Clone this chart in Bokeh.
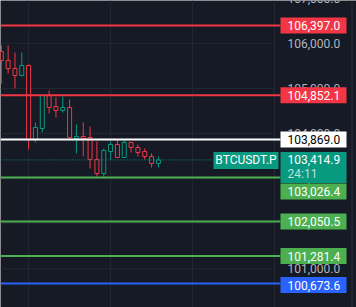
from bokeh.plotting import figure
from bokeh.models import Range1d
from bokeh.core.properties import value
from bokeh.embed import file_html
from bokeh.resources import INLINE

# ---------------- data ----------------
opens  = [105820, 105621, 105443, 105288, 105510, 103868, 104112, 104844,
          104600, 104512, 104578, 103891, 103935, 103913, 103425, 103114,
          103602, 103758, 103469, 103802, 103691, 103602, 103491, 103336]
highs  = [105953, 105953, 105798, 105798, 105532, 104246, 104844, 104955,
          104800, 104822, 104756, 104201, 104246, 104157, 103824, 103669,
          103824, 103868, 103868, 103802, 103758, 103669, 103558, 103491]
lows   = [105111, 105332, 105000, 105266, 103647, 103802, 104024, 104445,
          104356, 104467, 103913, 103558, 103491, 103225, 103048, 103026,
          103425, 103469, 103469, 103580, 103491, 103425, 103247, 103247]
closes = [105621, 105443, 105288, 105510, 103868, 104135, 104844, 104578,
          104512, 104578, 103913, 103935, 103891, 103425, 103114, 103624,
          103758, 103469, 103802, 103691, 103580, 103491, 103336, 103415]

level_prices = [106397.0, 104852.1, 103869.0, 103026.4, 102050.5, 101281.4, 100673.6]
level_labels = ["106,397.0", "104,852.1", "103,869.0", "103,026.4",
                "102,050.5", "101,281.4", "100,673.6"]
level_kinds  = ["red", "red", "white", "green", "green", "green", "blue"]

tick_prices = [101000, 102000, 103000, 104000, 105000, 106000, 107000]
tick_labels = ["101,000.0", "102,000.0", "103,000.0",
               "104,000.0", "105,000.0", "106,000.0", "107,000.0"]

time_grid_bars = [4, 16, 28, 40]

last_price = 103414.9
last_label = "103,414.9"
countdown = "24:11"
symbol = "BTCUSDT.P"

# ---------------- styling / layout ----------------
W, H = 356, 307
BG = "#161a25"
GRID = "#242833"
RED = "#f23645"
TEAL = "#089981"
GREEN = "#4caf50"
BLUE = "#2962ff"
AXIS_TXT = "#b2b5be"
FONT = value("Roboto")

PX_BAR = 6.83      # pixels per bar
X0 = 0.8           # pixel of bar 0
S = (106397.0 - 100673.6) / (283 - 25)   # price units per pixel
Y_TOP = 106397.0 + 25 * S
Y_BOT = Y_TOP - H * S

def px2x(px):
    return (px - X0) / PX_BAR

x_start, x_end = px2x(0), px2x(W)

p = figure(width=W, height=H, x_range=Range1d(x_start, x_end),
           y_range=Range1d(Y_BOT, Y_TOP), toolbar_location=None,
           output_backend="svg", min_border=0, x_axis_location=None,
           y_axis_location=None, background_fill_color=BG,
           border_fill_color=BG, outline_line_color=None)
p.grid.visible = False

# grid
p.segment(x0=[x_start] * len(tick_prices), x1=[px2x(274)] * len(tick_prices),
          y0=tick_prices, y1=tick_prices, line_color=GRID, line_width=1)
p.segment(x0=time_grid_bars, x1=time_grid_bars, y0=[Y_BOT] * 4, y1=[Y_TOP] * 4,
          line_color=GRID, line_width=1)
p.segment(x0=[px2x(351.5)], x1=[px2x(351.5)], y0=[Y_BOT], y1=[Y_TOP],
          line_color="#2a2e39", line_width=1)

# price scale labels
p.text(x=[px2x(287)] * len(tick_prices), y=tick_prices, text=tick_labels,
       text_font=FONT, text_font_size="12px", text_color=AXIS_TXT,
       text_align="left", text_baseline="middle")

# candles
idx = list(range(len(opens)))
cols = [TEAL if c >= o else RED for o, c in zip(opens, closes)]
top = [max(o, c) for o, c in zip(opens, closes)]
bot = [min(o, c) for o, c in zip(opens, closes)]
p.segment(x0=idx, x1=idx, y0=lows, y1=highs, line_color=cols, line_width=1)
p.vbar(x=idx, width=4 / PX_BAR, top=top, bottom=bot, fill_color=BG,
       line_color=cols, line_width=1)

# level lines
kind_col = {"red": RED, "white": "#ffffff", "green": GREEN, "blue": BLUE}
lcols = [kind_col[k] for k in level_kinds]
n = len(level_prices)
p.segment(x0=[x_start] * n, x1=[px2x(280)] * n, y0=level_prices, y1=level_prices,
          line_color=lcols, line_width=2)

# current price dotted line
p.segment(x0=[x_start], x1=[px2x(213)], y0=[last_price], y1=[last_price],
          line_color=TEAL, line_width=1, line_dash="1 2")

# level label boxes (103,026.4 label pushed down below the last-price box)
shift = [0, 0, 0, -14, 0, 0, -1.5]
centers = [lp + sh * S for lp, sh in zip(level_prices, shift)]
p.quad(left=[px2x(280)] * n, right=[px2x(346)] * n,
       top=[c + 8 * S for c in centers], bottom=[c - 8 * S for c in centers],
       fill_color=lcols, line_color=None)
tcols = ["#000000" if k == "white" else "#ffffff" for k in level_kinds]
p.text(x=[px2x(287)] * n, y=centers, text=level_labels, text_font=FONT,
       text_font_size="12px", text_color=tcols, text_align="left",
       text_baseline="middle")

# last price box + symbol box
p.quad(left=[px2x(280)], right=[px2x(346)], top=[last_price + 8 * S],
       bottom=[last_price - 23 * S], fill_color=TEAL, line_color=None)
p.quad(left=[px2x(213)], right=[px2x(278)], top=[last_price + 8 * S],
       bottom=[last_price - 9 * S], fill_color=TEAL, line_color=None)
p.text(x=[px2x(287)], y=[last_price], text=[last_label], text_font=FONT,
       text_font_size="12px", text_color="#ffffff", text_align="left",
       text_baseline="middle")
p.text(x=[px2x(287)], y=[last_price - 14 * S], text=[countdown], text_font=FONT,
       text_font_size="12px", text_color="#ffffff", text_alpha=0.72,
       text_align="left", text_baseline="middle")
p.text(x=[px2x(245.5)], y=[last_price], text=[symbol], text_font=FONT,
       text_font_size="12px", text_color="#ffffff", text_align="center",
       text_baseline="middle")

open("out.html", "w").write(file_html(p, INLINE))
